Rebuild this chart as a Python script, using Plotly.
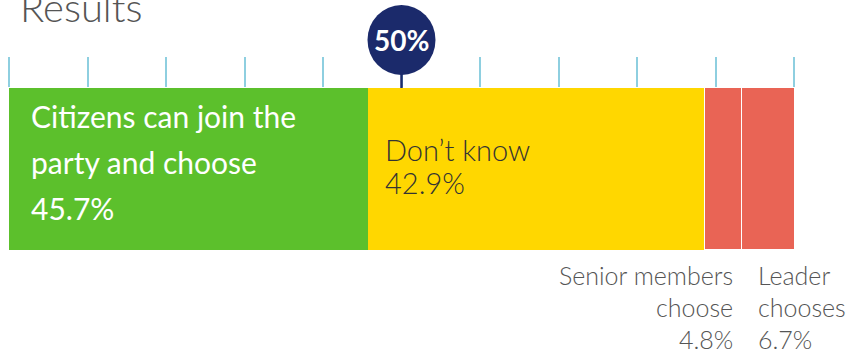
import plotly.graph_objects as go

categories = ["Citizens can join the party and choose", "Don't know", "Senior members choose", "Leader chooses"]
values = [45.7, 42.9, 4.8, 6.7]
colors = ["#5cc02c", "#ffd700", "#e96455", "#e96455"]
tick_values = list(range(0, 101, 10))
marker_value = 50
marker_label = "50%"
title_text = "Results"

FONT = "Lato"

fig = go.Figure()
starts = []
acc = 0
for name, v, c in zip(categories, values, colors):
    starts.append(acc)
    fig.add_trace(go.Bar(
        x=[v], y=[0], orientation="h", name=name,
        marker=dict(color=c, line=dict(color="white", width=1.5 if c == "#e96455" else 0)),
        hoverinfo="skip", showlegend=False,
    ))
    acc += v

annotations = []
# Title
annotations.append(dict(text=title_text, xref="paper", yref="paper", x=0, y=1,
                        xanchor="left", yanchor="bottom", xshift=9, yshift=55,
                        showarrow=False, font=dict(family=FONT, size=40, color="#555555", weight=300)))
# Green label lines
green_lines = ["Citizens can join the", "party and choose", f"{values[0]}%"]
for i, t in enumerate(green_lines):
    annotations.append(dict(text=t, xref="x", yref="paper", x=starts[0], y=1,
                            xanchor="left", yanchor="middle", xshift=20, yshift=-28 - 46 * i,
                            showarrow=False, font=dict(family=FONT, size=30, color="white", weight=400)))
# Yellow label lines
yellow_lines = ["Don\u2019t know", f"{values[1]}%"]
for i, t in enumerate(yellow_lines):
    annotations.append(dict(text=t, xref="x", yref="paper", x=starts[1], y=1,
                            xanchor="left", yanchor="middle", xshift=15, yshift=-61 - 33 * i,
                            showarrow=False, font=dict(family=FONT, size=29, color="#333333", weight=300)))
# Bottom labels
senior_lines = ["Senior members", "choose", f"{values[2]}%"]
for i, t in enumerate(senior_lines):
    annotations.append(dict(text=t, xref="x", yref="paper", x=starts[2] + values[2], y=0,
                            xanchor="right", yanchor="middle", xshift=-7, yshift=-25 - 32 * i,
                            showarrow=False, font=dict(family=FONT, size=25, color="#555555", weight=300)))
leader_lines = ["Leader", "chooses", f"{values[3]}%"]
for i, t in enumerate(leader_lines):
    annotations.append(dict(text=t, xref="x", yref="paper", x=starts[3], y=0,
                            xanchor="left", yanchor="middle", xshift=14, yshift=-25 - 32 * i,
                            showarrow=False, font=dict(family=FONT, size=25, color="#555555", weight=300)))
# 50% marker text
annotations.append(dict(text=f"<b>{marker_label}</b>", xref="x", yref="paper", x=marker_value, y=1,
                        xanchor="center", yanchor="middle", yshift=48, showarrow=False,
                        font=dict(family=FONT, size=28, color="white")))

shapes = [
    dict(type="line", xref="x", yref="paper", xsizemode="pixel", ysizemode="pixel",
         xanchor=marker_value, yanchor=1, x0=0, x1=0, y0=0, y1=16,
         line=dict(color="#1b2a6b", width=2.5)),
    dict(type="circle", xref="x", yref="paper", xsizemode="pixel", ysizemode="pixel",
         xanchor=marker_value, yanchor=1, x0=-34, x1=34, y0=13, y1=83,
         fillcolor="#1b2a6b", line=dict(width=0)),
]

fig.update_layout(
    width=862, height=354,
    margin=dict(l=9, r=68, t=88, b=104),
    barmode="stack", bargap=0,
    plot_bgcolor="white", paper_bgcolor="white",
    xaxis=dict(range=[0, 100], side="top", showgrid=False, zeroline=False,
               tickvals=tick_values, ticks="outside", ticklen=30, tickwidth=2,
               tickcolor="#8ecfe0", showticklabels=False, showline=False, fixedrange=True),
    yaxis=dict(range=[-0.5, 0.5], visible=False, fixedrange=True),
    annotations=annotations,
    shapes=shapes,
)

fig.write_html("out.html", config={"displayModeBar": False})
